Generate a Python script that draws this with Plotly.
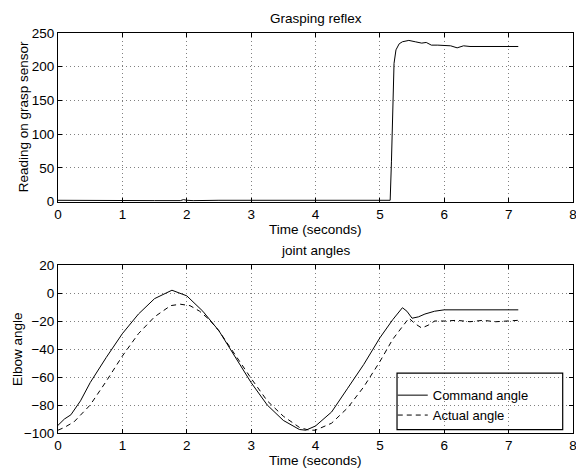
import plotly.graph_objects as go

# ---- data ----
grasp_t = [0.0, 0.5, 1.0, 1.5, 1.9, 1.95, 2.0, 2.1, 2.5, 3.0, 3.5, 4.0, 4.5, 5.0, 5.16, 5.18, 5.2,
           5.22, 5.25, 5.3, 5.35, 5.45, 5.55, 5.65, 5.72, 5.8, 5.9, 6.0, 6.1, 6.2, 6.3, 6.4, 6.6, 6.8, 6.9, 7.0, 7.15]
grasp_v = [2, 1.5, 2, 1.5, 1.5, 3, 2, 1.5, 2, 2, 1.5, 2, 2, 2, 2, 60, 150,
           205, 225, 234, 237, 239, 237, 235, 236, 232, 232, 232, 231, 228, 231, 230, 230, 230, 229, 230, 230]

cmd_t = [0.0, 0.1, 0.2, 0.35, 0.5, 0.75, 1.0, 1.25, 1.5, 1.77, 2.0, 2.25, 2.5, 2.75, 3.0, 3.25, 3.5,
         3.75, 3.85, 4.0, 4.25, 4.5, 4.75, 5.0, 5.2, 5.35, 5.42, 5.5, 5.6, 5.7, 5.85, 6.0, 7.15]
cmd_v = [-94.5, -90, -87, -77, -64, -46, -29, -15, -4, 2, -2, -13, -27, -45, -64, -80, -91,
         -97.5, -98, -95, -85, -68, -51, -32, -19, -10.5, -13, -18, -17, -15, -13, -12, -12]

act_t = [0.0, 0.1, 0.25, 0.5, 0.75, 1.0, 1.25, 1.5, 1.75, 1.9, 2.05, 2.2, 2.35, 2.5, 2.75, 3.0, 3.25,
         3.5, 3.75, 3.9, 4.0, 4.25, 4.5, 4.75, 5.0, 5.2, 5.35, 5.45, 5.55, 5.65, 5.75, 5.85, 6.0,
         6.2, 6.4, 6.6, 6.8, 7.0, 7.15]
act_v = [-98, -96, -92, -80, -63, -45, -29, -17, -9, -8, -9, -13, -19, -27, -44, -61, -77,
         -88, -96, -98, -98, -93, -82, -67, -49, -33, -24, -18, -22, -25, -23, -20, -20,
         -19.5, -20.5, -19.5, -20.5, -20, -19.5]

FONT = "Liberation Sans, Arial, sans-serif"
FS = 13.5

fig = go.Figure()
fig.add_trace(go.Scatter(x=grasp_t, y=grasp_v, mode="lines", line=dict(color="black", width=1),
                         showlegend=False, xaxis="x", yaxis="y"))
fig.add_trace(go.Scatter(x=cmd_t, y=cmd_v, mode="lines", name="Command angle",
                         line=dict(color="black", width=1), xaxis="x2", yaxis="y2"))
fig.add_trace(go.Scatter(x=act_t, y=act_v, mode="lines", name="Actual angle",
                         line=dict(color="black", width=1, dash="5px,4px"), xaxis="x2", yaxis="y2"))

axis_common = dict(showline=True, linecolor="black", linewidth=1, mirror="ticks",
                   ticks="inside", ticklen=4, tickcolor="black", automargin=False,
                   ticklabeloverflow="allow",
                   showgrid=True, gridcolor="#808080", griddash="1px,3px", gridwidth=1,
                   zeroline=False, tickfont=dict(family=FONT, size=FS, color="black"))

TOP_DOM = [0.5784, 1.0]
BOT_DOM = [0.0, 0.4199]

def title_ann(text, x, y, xshift=0, yshift=0, angle=0):
    return dict(text=text, x=x, y=y, xref="paper", yref="paper", xanchor="center",
                yanchor="middle", xshift=xshift, yshift=yshift, textangle=angle,
                showarrow=False, font=dict(family=FONT, size=FS, color="black"))

fig.update_layout(
    width=576, height=468,
    margin=dict(l=58, r=3, t=33, b=35),
    plot_bgcolor="white", paper_bgcolor="white",
    font=dict(family=FONT, size=FS, color="black"),
    xaxis=dict(domain=[0, 1], anchor="y", range=[0, 8], dtick=1, **axis_common),
    yaxis=dict(domain=TOP_DOM, anchor="x", range=[0, 250], dtick=50, **axis_common),
    xaxis2=dict(domain=[0, 1], anchor="y2", range=[0, 8], dtick=1, **axis_common),
    yaxis2=dict(domain=BOT_DOM, anchor="x2", range=[-100, 20], dtick=20, **axis_common),
    legend=dict(x=0.650, y=0.132, xanchor="left", yanchor="top",
                bgcolor="rgba(0,0,0,0)", borderwidth=0,
                font=dict(family=FONT, size=13, color="black"),
                itemwidth=30, tracegroupgap=0),
    shapes=[dict(type="rect", xref="paper", yref="paper",
                 x0=0.6583, x1=0.980, y0=0.0085, y1=0.1495,
                 line=dict(color="black", width=1.2), fillcolor="rgba(0,0,0,0)")],
    annotations=[
        title_ann("Grasping reflex", 0.5, TOP_DOM[1], yshift=15),
        title_ann("Time (seconds)", 0.5, TOP_DOM[0], yshift=-28),
        title_ann("Reading on grasp sensor", 0, (TOP_DOM[0] + TOP_DOM[1]) / 2, xshift=-35, angle=-90),
        title_ann("joint angles", 0.5, BOT_DOM[1], yshift=15),
        title_ann("Time (seconds)", 0.5, BOT_DOM[0], yshift=-27),
        title_ann("Elbow angle", 0, (BOT_DOM[0] + BOT_DOM[1]) / 2, xshift=-41, angle=-90),
    ],
)

fig.write_html("out.html", config={"displayModeBar": False},
               post_script="document.body.style.margin='0';")
